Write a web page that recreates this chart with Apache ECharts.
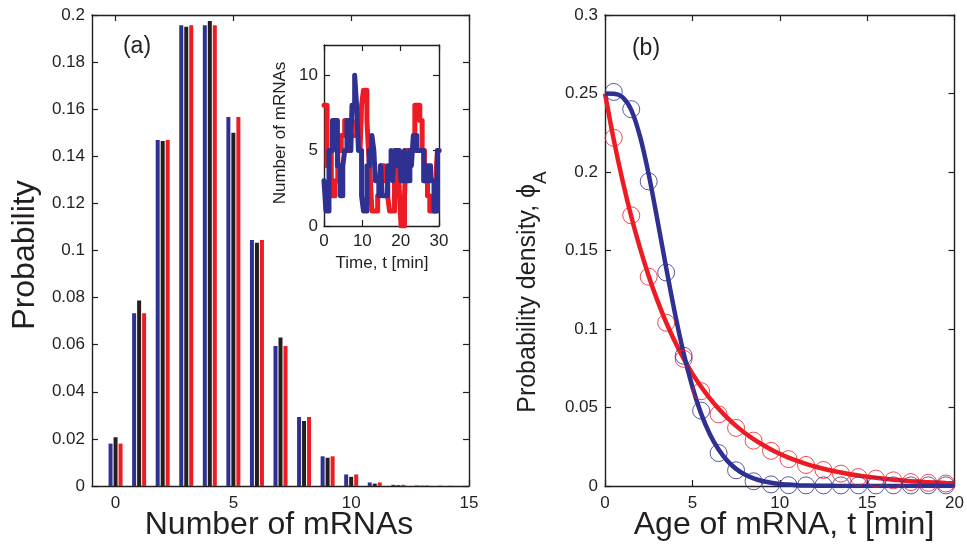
<!DOCTYPE html>
<html>
<head>
<meta charset="utf-8">
<script src="https://cdn.jsdelivr.net/npm/echarts@6/dist/echarts.min.js"></script>
<style>html,body{margin:0;padding:0;background:#fff}#c{width:967px;height:550px}</style>
</head>
<body>
<div id="c"></div>
<script>
// ---------- Panel (a): mRNA number distribution ----------
const mrnaCounts = [0,1,2,3,4,5,6,7,8,9,10,11,12,13,14];
const probBlue  = [0.0180,0.0734,0.1469,0.1957,0.1957,0.1567,0.1045,0.0595,0.0293,0.0126,0.0049,0.0015,0.0005,0.0002,0.0001];
const probBlack = [0.0207,0.0788,0.1465,0.1950,0.1975,0.1500,0.1033,0.0631,0.0276,0.0120,0.0039,0.0010,0.0003,0.0001,0.0000];
const probRed   = [0.0180,0.0734,0.1469,0.1957,0.1957,0.1567,0.1045,0.0595,0.0293,0.0126,0.0049,0.0015,0.0005,0.0002,0.0001];
const aXTicks = [0,5,10,15];

// ---------- Inset: mRNA number time traces ----------
const insetBlueT = [0,0.5,1.3,2.2,3.5,4.3,4.9,5.4,6.0,7.0,7.3,8.0,8.5,9.0,9.8,10.3,11.2,11.8,12.5,13.0,13.4,14.3,14.8,15.2,16.6,17.5,17.9,18.4,19.3,19.7,20.1,21.0,21.5,22.4,22.8,23.3,24.2,26.0,26.9,27.8,28.7,29.6,30];
const insetBlueN = [3,1,5,7,4,2,4,5,7,5,8,10,8,5,2,1,4,5,6,5,3,2,4,2,4,5,3,5,4,5,3,5,3,5,4,6,5,3,4,3,1,5,5];
const insetRedT  = [0,0.8,1.3,1.9,2.9,3.6,4.5,5.4,6.1,6.7,8.5,9.4,9.8,10.3,11.2,11.6,12.1,12.5,14.0,14.7,15.7,16.6,17.1,18.4,19.2,19.7,20.1,21.0,21.5,23.7,25.0,25.6,26.2,27.0,27.6,29.1,29.6,30];
const insetRedN  = [8,4,5,2,3,5,6,7,5,6,7,5,8,9,7,5,3,1,2,4,3,2,1,3,5,2,0,2,5,8,7,5,3,2,1,3,5,5];
const insetYTicks = [0,5,10];

// ---------- Panel (b): age density ----------
const ageCurveT = [0,0.5,1,1.5,2,2.5,3,3.5,4,4.5,5,5.5,6,6.5,7,7.5,8,8.5,9,9.5,10,10.5,11,11.5,12,12.5,13,13.5,14,14.5,15,15.5,16,16.5,17,17.5,18,18.5,19,19.5,20];
const ageCurveBlue = [0.25,0.2499,0.2477,0.2396,0.2228,0.1985,0.1694,0.139,0.1101,0.0845,0.0632,0.0461,0.033,0.0232,0.016,0.0109,0.0073,0.0049,0.0032,0.0021,0.0013,0.0009,0.0005,0.0003,0.0002,0.0001,0.0001,0,0,0,0,0,0,0,0,0,0,0,0,0,0];
const ageCurveRed  = [0.25,0.2206,0.1947,0.1718,0.1516,0.1338,0.1181,0.1042,0.092,0.0811,0.0716,0.0632,0.0558,0.0492,0.0434,0.0383,0.0338,0.0299,0.0264,0.0232,0.0205,0.0181,0.016,0.0141,0.0124,0.011,0.0097,0.0086,0.0075,0.0067,0.0059,0.0052,0.0046,0.004,0.0036,0.0031,0.0028,0.0024,0.0022,0.0019,0.0017];
const ageMarkT = [0.5,1.5,2.5,3.5,4.5,5.5,6.5,7.5,8.5,9.5,10.5,11.5,12.5,13.5,14.5,15.5,16.5,17.5,18.5,19.5];
const ageMarkBlue = [0.251,0.240,0.194,0.136,0.083,0.048,0.021,0.010,0.003,0.001,0.0005,0.0004,0.0004,0.0004,0.0004,0.0004,0.0004,0.0004,0.0004,0.0004];
const ageMarkRed  = [0.2218,0.1724,0.1333,0.104,0.081,0.0604,0.0456,0.037,0.0289,0.0224,0.0171,0.0134,0.0102,0.0079,0.0057,0.0047,0.0036,0.0025,0.002,0.0016];

const FONT = '"Liberation Sans", Arial, Helvetica, sans-serif';
const INK = '#231f20';
const BLUE = '#2e3192';
const RED = '#ed1c24';
const BLACK = '#231f20';

const zip = (xs, ys) => xs.map((x, i) => [x, ys[i]]);

function axis(kind, o) {
  const a = {
    type: 'value',
    gridIndex: o.grid,
    position: o.position,
    min: o.min, max: o.max,
    splitLine: { show: false },
    axisLine: { show: true, onZero: false, lineStyle: { color: INK, width: 1.4 } },
    axisTick: { show: true, inside: true, length: 6, lineStyle: { color: INK, width: 1.2 } },
    axisLabel: {
      show: !!o.labels, color: INK, fontFamily: FONT, fontSize: o.fontSize || 17,
      margin: o.margin || 8, showMinLabel: true, showMaxLabel: true
    }
  };
  if (o.interval != null) a.interval = o.interval;
  if (o.custom) { a.axisTick.customValues = o.custom; a.axisLabel.customValues = o.custom; }
  return a;
}

const chart = echarts.init(document.getElementById('c'), null, { renderer: 'canvas' });

const option = {
  backgroundColor: '#fff',
  animation: false,
  grid: [
    { left: 92, top: 15, width: 377, height: 471 },
    { left: 605, top: 15, width: 358, height: 471 },
    { left: 324, top: 45, width: 115, height: 181, show: true, backgroundColor: '#fff', borderWidth: 0, z: 5 }
  ],
  xAxis: [
    axis('x', { grid: 0, position: 'bottom', min: -1, max: 15, custom: aXTicks, labels: true, margin: 9 }),
    axis('x', { grid: 0, position: 'top', min: -1, max: 15, custom: aXTicks }),
    axis('x', { grid: 1, position: 'bottom', min: 0, max: 20, interval: 5, labels: true, margin: 9 }),
    axis('x', { grid: 1, position: 'top', min: 0, max: 20, interval: 5 }),
    Object.assign(axis('x', { grid: 2, position: 'bottom', min: 0, max: 30, interval: 10, labels: true, margin: 7 }), { z: 6 }),
    Object.assign(axis('x', { grid: 2, position: 'top', min: 0, max: 30, interval: 10 }), { z: 6 })
  ],
  yAxis: [
    axis('y', { grid: 0, position: 'left', min: 0, max: 0.2, interval: 0.02, labels: true, margin: 7 }),
    axis('y', { grid: 0, position: 'right', min: 0, max: 0.2, interval: 0.02 }),
    axis('y', { grid: 1, position: 'left', min: 0, max: 0.3, interval: 0.05, labels: true, margin: 7 }),
    axis('y', { grid: 1, position: 'right', min: 0, max: 0.3, interval: 0.05 }),
    Object.assign(axis('y', { grid: 2, position: 'left', min: 0, max: 12, custom: insetYTicks, labels: true, margin: 6 }), { z: 6 }),
    Object.assign(axis('y', { grid: 2, position: 'right', min: 0, max: 12, custom: insetYTicks }), { z: 6 })
  ],
  series: [
    { type: 'bar', xAxisIndex: 0, yAxisIndex: 0, data: zip(mrnaCounts, probBlue), barWidth: 4, barGap: '25%', itemStyle: { color: BLUE } },
    { type: 'bar', xAxisIndex: 0, yAxisIndex: 0, data: zip(mrnaCounts, probBlack), barWidth: 4, barGap: '25%', itemStyle: { color: BLACK } },
    { type: 'bar', xAxisIndex: 0, yAxisIndex: 0, data: zip(mrnaCounts, probRed), barWidth: 4, barGap: '25%', itemStyle: { color: RED } },

    { type: 'line', xAxisIndex: 4, yAxisIndex: 4, data: zip(insetRedT, insetRedN), step: 'end', symbol: 'none', z: 7,
      lineStyle: { color: RED, width: 5, join: 'round', cap: 'round' } },
    { type: 'line', xAxisIndex: 4, yAxisIndex: 4, data: zip(insetBlueT, insetBlueN), step: 'end', symbol: 'none', z: 8,
      lineStyle: { color: BLUE, width: 5, join: 'round', cap: 'round' } },

    { type: 'line', xAxisIndex: 2, yAxisIndex: 2, data: zip(ageCurveT, ageCurveRed), symbol: 'none', smooth: 0.3, z: 2,
      lineStyle: { color: RED, width: 4.5 } },
    { type: 'line', xAxisIndex: 2, yAxisIndex: 2, data: zip(ageCurveT, ageCurveBlue), symbol: 'none', smooth: 0.3, z: 3,
      lineStyle: { color: BLUE, width: 4.5 } },
    { type: 'scatter', xAxisIndex: 2, yAxisIndex: 2, data: zip(ageMarkT, ageMarkRed), symbol: 'circle', symbolSize: 17, z: 4,
      itemStyle: { color: 'rgba(0,0,0,0)', borderColor: RED, borderWidth: 1 } },
    { type: 'scatter', xAxisIndex: 2, yAxisIndex: 2, data: zip(ageMarkT, ageMarkBlue), symbol: 'circle', symbolSize: 17, z: 4,
      itemStyle: { color: 'rgba(0,0,0,0)', borderColor: BLUE, borderWidth: 1 } }
  ],
  graphic: [
    { type: 'text', x: 137, y: 47, z: 10, style: { text: '(a)', fontFamily: FONT, fontSize: 23, fill: INK, align: 'center', verticalAlign: 'middle' } },
    { type: 'text', x: 646, y: 49, z: 10, style: { text: '(b)', fontFamily: FONT, fontSize: 23, fill: INK, align: 'center', verticalAlign: 'middle' } },
    { type: 'text', x: 25, y: 255, rotation: Math.PI / 2, z: 10, style: { text: 'Probability', fontFamily: FONT, fontSize: 32, fill: INK, align: 'center', verticalAlign: 'middle' } },
    { type: 'text', x: 279, y: 525, z: 10, style: { text: 'Number of mRNAs', fontFamily: FONT, fontSize: 32, fill: INK, align: 'center', verticalAlign: 'middle' } },
    { type: 'text', x: 784, y: 525, z: 10, style: { text: 'Age of mRNA, t [min]', fontFamily: FONT, fontSize: 32, fill: INK, align: 'center', verticalAlign: 'middle' } },
    { type: 'text', x: 528, y: 292, rotation: Math.PI / 2, z: 10, style: {
        text: '{m|Probability density, ϕ}{s|A}', fill: INK, align: 'center', verticalAlign: 'middle',
        rich: { m: { fontFamily: FONT, fontSize: 25, fill: INK, lineHeight: 44, verticalAlign: 'middle' },
                s: { fontFamily: FONT, fontSize: 19, fill: INK, lineHeight: 16, verticalAlign: 'bottom' } } } },
    { type: 'text', x: 280, y: 133, rotation: Math.PI / 2, z: 10, style: { text: 'Number of mRNAs', fontFamily: FONT, fontSize: 17, fill: INK, align: 'center', verticalAlign: 'middle' } },
    { type: 'text', x: 382, y: 263, z: 10, style: { text: 'Time, t [min]', fontFamily: FONT, fontSize: 17, fill: INK, align: 'center', verticalAlign: 'middle' } }
  ]
};
chart.setOption(option);
</script>
</body>
</html>
